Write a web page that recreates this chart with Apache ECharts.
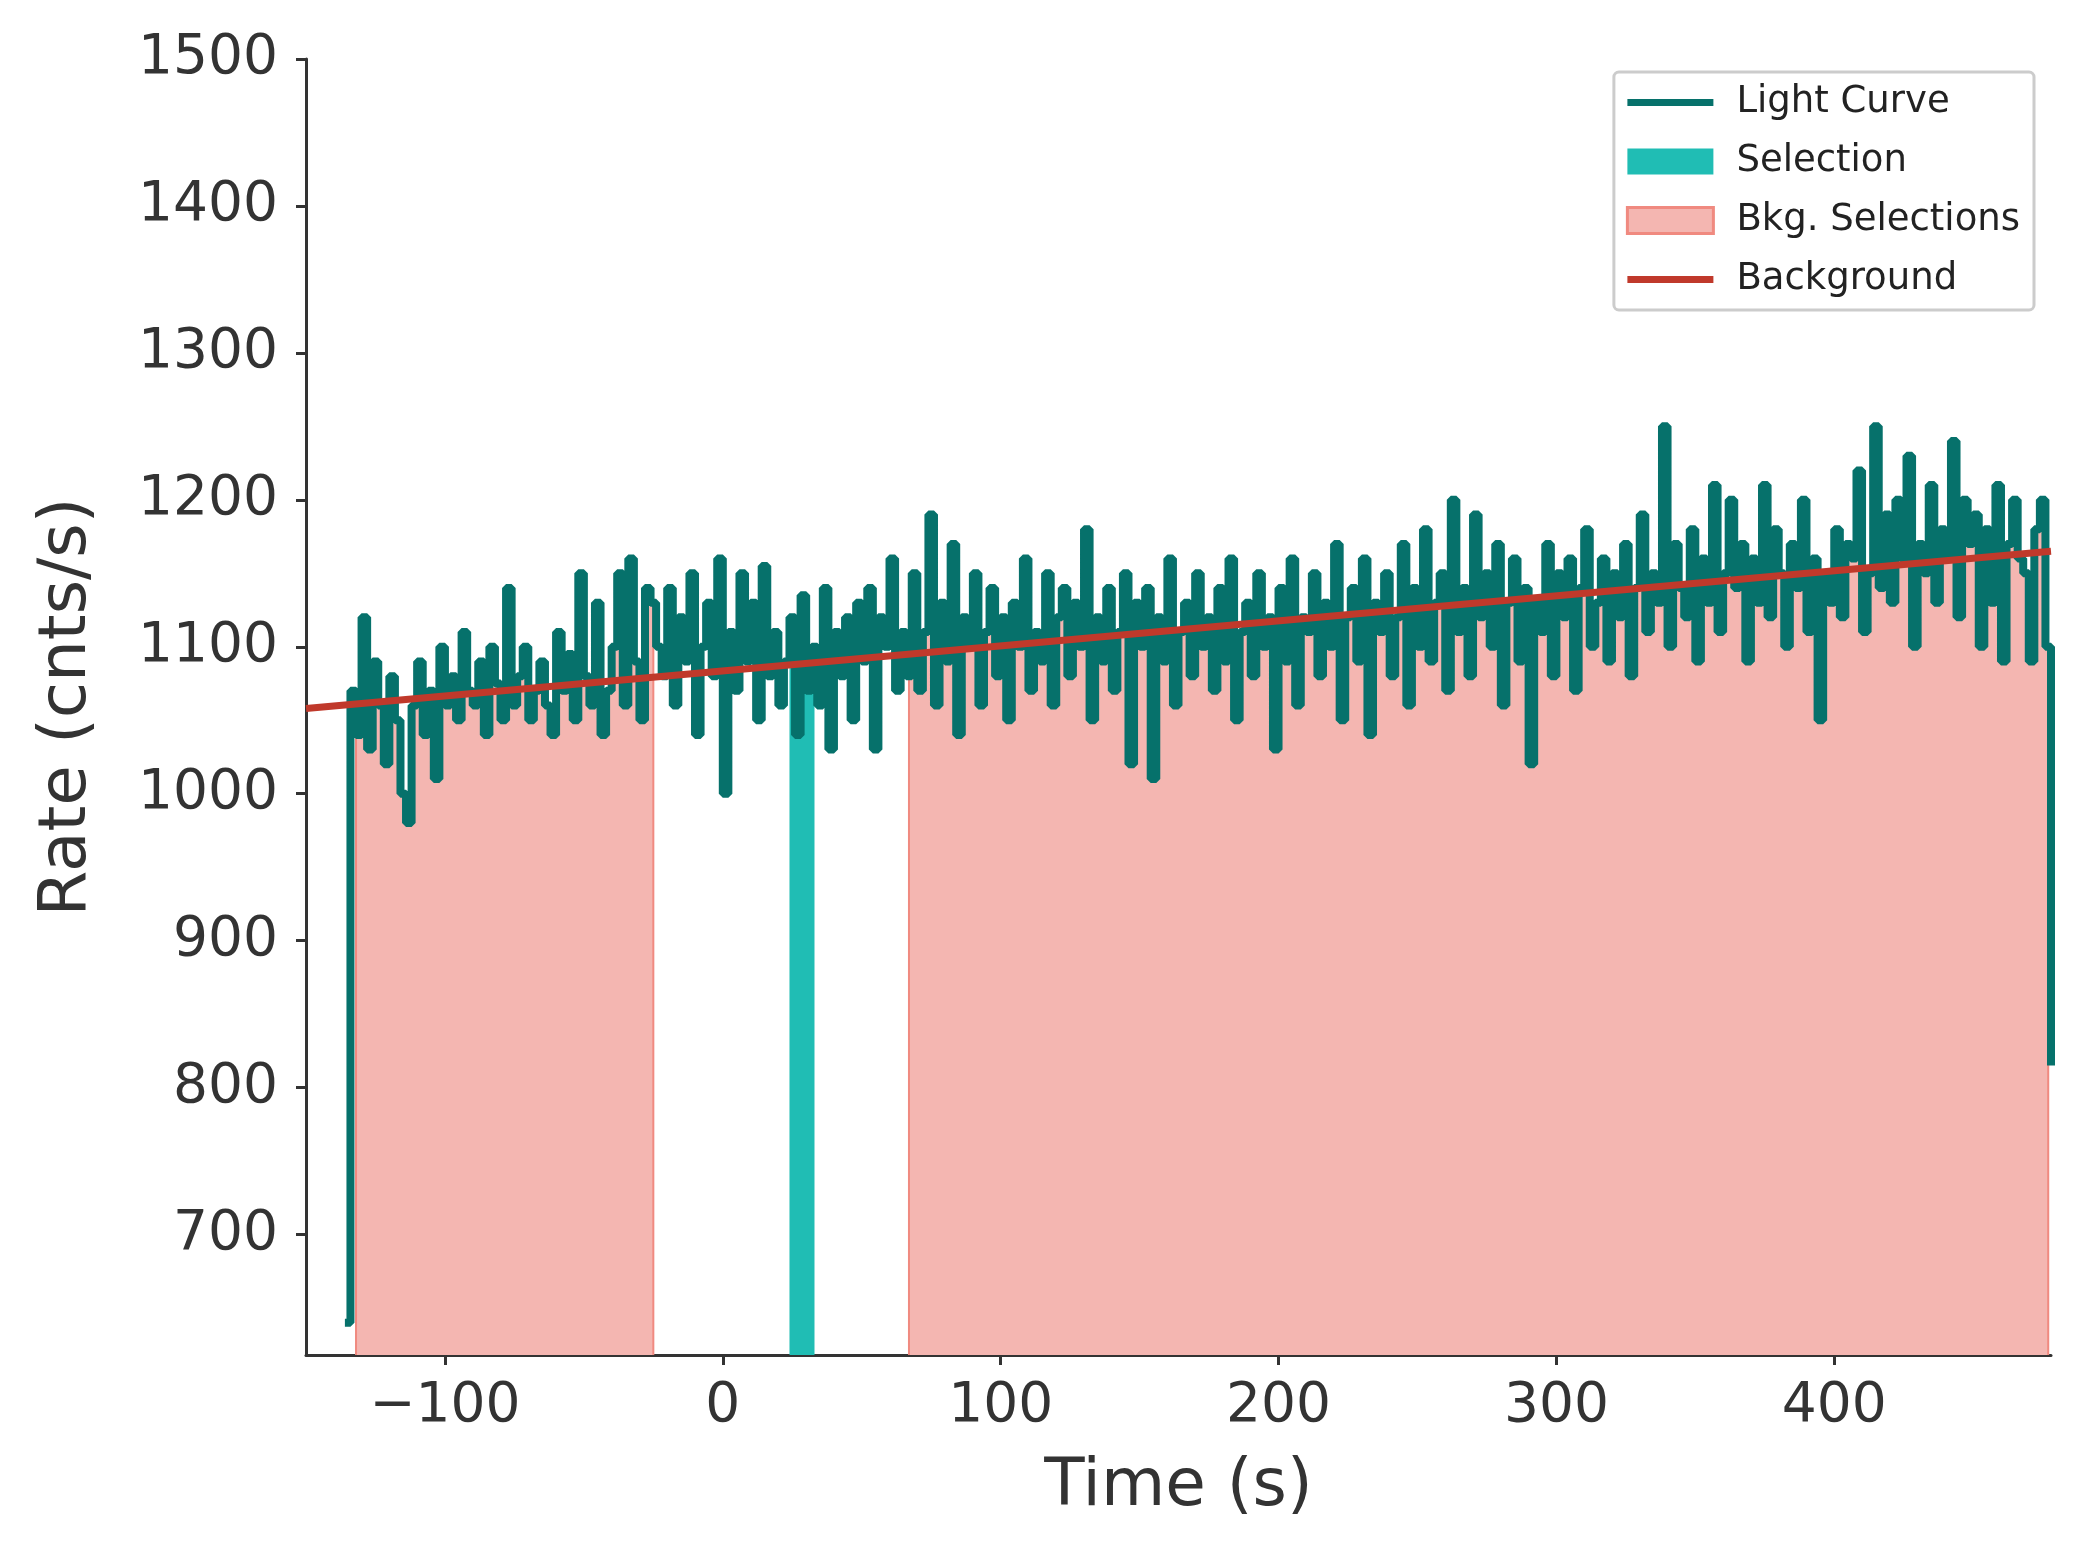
<!DOCTYPE html>
<html>
<head>
<meta charset="UTF-8">
<script src="https://cdn.jsdelivr.net/npm/echarts@6/dist/echarts.min.js"></script>
<style>
    html, body { margin: 0; background: #fff; }
    #box { width: 2074px; height: 1557px; }
</style>
</head>
<body>
<div id="box"></div>
<script>
// light curve: 2 s bins starting at binStart
const binStart = -134;
const binWidth = 2;
const rates = [
    // -134 .. -26
    1070, 1040, 1120, 1030, 1090, 1060, 1020, 1080, 1050, 1000, 980, 1060, 1090, 1040, 1070, 1010, 1100, 1060, 1080, 1050, 1110, 1070, 1060, 1090, 1040, 1100, 1075,
    1050, 1140, 1060, 1080, 1100, 1050, 1070, 1090, 1060, 1040, 1110, 1070, 1095, 1050, 1150, 1080, 1060, 1130, 1040, 1070, 1100, 1150, 1060, 1160, 1090, 1050, 1140,
    // -26 .. 66
    1130, 1100, 1080, 1140, 1060, 1120, 1090, 1150, 1040, 1100, 1130, 1080, 1160, 1000, 1110, 1070, 1150, 1090, 1130, 1050, 1155, 1080, 1110,
    1060, 1090, 1120, 1040, 1135, 1070, 1100, 1060, 1140, 1030, 1110, 1080, 1120, 1050, 1130, 1090, 1140, 1030, 1120, 1100, 1160, 1070, 1110,
    // 66 .. 478
    1080, 1150, 1070, 1110, 1190, 1060, 1130, 1090, 1170, 1040, 1120, 1100, 1150, 1060, 1110, 1140, 1080, 1120, 1050, 1130, 1100, 1160, 1070, 1110, 1090, 1150, 1060, 1120, 1140, 1080,
    1130, 1100, 1180, 1050, 1120, 1090, 1140, 1070, 1110, 1150, 1020, 1130, 1100, 1140, 1010, 1120, 1090, 1160, 1060, 1110, 1130, 1080, 1150, 1100, 1120, 1070, 1140, 1090, 1160, 1050,
    1110, 1130, 1080, 1150, 1100, 1120, 1030, 1140, 1090, 1160, 1060, 1120, 1110, 1150, 1080, 1130, 1100, 1170, 1050, 1120, 1140, 1090, 1160, 1040, 1130, 1110, 1150, 1080, 1120, 1170,
    1060, 1140, 1100, 1180, 1090, 1130, 1150, 1070, 1200, 1110, 1140, 1080, 1190, 1120, 1150, 1100, 1170, 1060, 1130, 1160, 1090, 1140, 1020, 1130, 1110, 1170, 1080, 1150, 1120, 1160,
    1070, 1140, 1180, 1100, 1130, 1160, 1090, 1150, 1120, 1170, 1080, 1140, 1190, 1110, 1150, 1130, 1250, 1100, 1170, 1140, 1120, 1180, 1090, 1160, 1130, 1210, 1110, 1150, 1200, 1140,
    1170, 1090, 1160, 1130, 1210, 1120, 1180, 1150, 1100, 1170, 1140, 1200, 1110, 1160, 1050, 1150, 1130, 1180, 1120, 1170, 1160, 1220, 1110, 1150, 1250, 1140, 1190, 1130, 1200, 1160,
    1230, 1100, 1170, 1150, 1210, 1130, 1180, 1160, 1240, 1120, 1200, 1170, 1190, 1100, 1180, 1130, 1210, 1090, 1170, 1200, 1160, 1150, 1090, 1180, 1200, 1100
];
const firstPoint = [-136, 640];
const lastPoint = [478, 815];

// background fit line
const bkgLine = [[-150, 1058], [478, 1165]];
// selections
const selection = [24, 33];
const bkgSelections = [[-132, -25], [67, 477]];

const xTicks = [-100, 0, 100, 200, 300, 400];
const yTicks = [700, 800, 900, 1000, 1100, 1200, 1300, 1400, 1500];
const yMin = 618;

let curve = [firstPoint];
rates.forEach((r, i) => curve.push([binStart + i * binWidth, r]));
curve.push(lastPoint);

function rateAt(t) {
    let idx = Math.floor((t - binStart) / binWidth);
    idx = Math.max(0, Math.min(rates.length - 1, idx));
    return rates[idx];
}
function slice(a, b) {
    let out = [[a, rateAt(a)]];
    curve.forEach(p => { if (p[0] > a && p[0] < b) out.push(p); });
    out.push([b, rateAt(b - 0.01)]);
    return out;
}

const fillStyle = (color, edge) => ({
    type: 'line', step: 'end', symbol: 'none', silent: true,
    lineStyle: { width: 0 },
    itemStyle: { color: color, borderColor: edge },
    areaStyle: { color: color, opacity: 1, origin: 'start' }
});

let series = [];
bkgSelections.forEach(r => {
    series.push(Object.assign(fillStyle('#f4b6b1', '#f08a80'), { name: 'Bkg. Selections', data: slice(r[0], r[1]), z: 1 }));
});
series.push(Object.assign(fillStyle('#20bdb4', '#20bdb4'), { name: 'Selection', data: slice(selection[0], selection[1]), z: 1 }));
// edge lines of bkg regions
series.push({
    type: 'line', symbol: 'none', silent: true, z: 2,
    lineStyle: { color: '#f08a80', width: 2 },
    data: bkgSelections.flatMap(r => [[r[0], yMin], [r[0], rateAt(r[0])], '-', [r[1], rateAt(r[1] - 0.01)], [r[1], yMin], '-'])
});
series.push({
    name: 'Light Curve', type: 'line', step: 'end', symbol: 'none', z: 3,
    lineStyle: { color: '#06716b', width: 8 }, itemStyle: { color: '#06716b' },
    data: curve
});
series.push({
    name: 'Background', type: 'line', symbol: 'none', z: 4,
    lineStyle: { color: '#c0392b', width: 7 }, itemStyle: { color: '#c0392b' },
    data: bkgLine
});

const axisText = { color: '#333', fontSize: 55, fontFamily: 'DejaVu Sans' };
const nameText = { fontSize: 66, color: '#333', fontFamily: 'DejaVu Sans' };
let chart = echarts.init(document.getElementById('box'));
chart.setOption({
    animation: false,
    grid: { left: 306, right: 23, top: 59, bottom: 202 },
    legend: {
        right: 40, top: 72, orient: 'vertical',
        padding: [12, 14, 12, 12], itemGap: 22,
        itemWidth: 86, itemHeight: 26,
        backgroundColor: '#fff', borderColor: '#ccc', borderWidth: 3, borderRadius: 5,
        textStyle: { fontSize: 37, color: '#222', fontFamily: 'DejaVu Sans', padding: [0, 0, 0, 18] },
        data: [
            { name: 'Light Curve', icon: 'path://M0,10L84,10L84,17L0,17Z', itemStyle: { color: '#06716b' } },
            { name: 'Selection', icon: 'rect', itemStyle: { color: '#20bdb4' } },
            { name: 'Bkg. Selections', icon: 'rect', itemStyle: { color: '#f4b6b1', borderColor: '#f08a80', borderWidth: 3 } },
            { name: 'Background', icon: 'path://M0,10L84,10L84,17L0,17Z', itemStyle: { color: '#c0392b' } }
        ]
    },
    xAxis: {
        type: 'value', min: -150, max: 478,
        name: 'Time (s)', nameLocation: 'middle', nameGap: 100,
        nameTextStyle: nameText,
        splitLine: { show: false },
        axisLine: { onZero: false, lineStyle: { color: '#333', width: 3 } },
        axisTick: { customValues: xTicks, length: 10, lineStyle: { width: 3 } },
        axisLabel: Object.assign({ customValues: xTicks, margin: 24, formatter: v => String(v).replace('-', '\u2212') }, axisText)
    },
    yAxis: {
        type: 'value', min: yMin, max: 1500,
        name: 'Rate (cnts/s)', nameLocation: 'middle', nameGap: 205,
        nameTextStyle: nameText,
        splitLine: { show: false },
        axisLine: { show: true, onZero: false, lineStyle: { color: '#333', width: 3 } },
        axisTick: { show: true, customValues: yTicks, length: 10, lineStyle: { width: 3 } },
        axisLabel: Object.assign({ customValues: yTicks, margin: 28, formatter: v => String(v) }, axisText)
    },
    series: series
});
</script>
</body>
</html>
